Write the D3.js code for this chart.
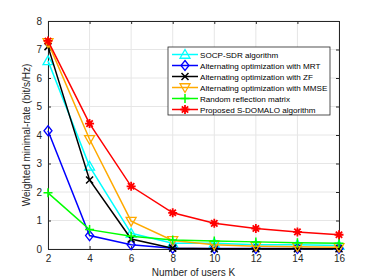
<!DOCTYPE html>
<html>
<head>
<meta charset="utf-8">
<script src="https://cdn.jsdelivr.net/npm/d3@7"></script>
<style>
body { margin: 0; background: #fff; }
text { font-family: "Liberation Sans", Arial, sans-serif; }
</style>
</head>
<body>
<script>
// Daten
var users = [2, 4, 6, 8, 10, 12, 14, 16];
var socpSdr  = [6.6, 2.9, 0.55, 0.2, 0.2, 0.15, 0.15, 0.12];
var aoMrt    = [4.15, 0.47, 0.15, 0.03, 0.02, 0.02, 0.02, 0.02];
var aoZf     = [7.1, 2.42, 0.35, 0.03, 0.01, 0.01, 0.01, 0.01];
var aoMmse   = [7.25, 3.85, 0.98, 0.3, 0.15, 0.1, 0.08, 0.06];
var randRefl = [1.97, 0.68, 0.45, 0.32, 0.28, 0.25, 0.22, 0.2];
var proposed = [7.3, 4.4, 2.2, 1.27, 0.9, 0.72, 0.6, 0.5];
var seriesNames = ["SOCP-SDR algorithm", "Alternating optimization with MRT",
  "Alternating optimization with ZF", "Alternating optimization with MMSE",
  "Random reflection matrix", "Proposed S-DOMALO algorithm"];
var xTicks = [2, 4, 6, 8, 10, 12, 14, 16];
var yTicks = [0, 1, 2, 3, 4, 5, 6, 7, 8];

var series = [
  {name: seriesNames[0], values: socpSdr,  color: "#00ffff", marker: "triUp"},
  {name: seriesNames[1], values: aoMrt,    color: "#0000ff", marker: "diamond"},
  {name: seriesNames[2], values: aoZf,     color: "#000000", marker: "cross"},
  {name: seriesNames[3], values: aoMmse,   color: "#ffaa00", marker: "triDown"},
  {name: seriesNames[4], values: randRefl, color: "#00ff00", marker: "plus"},
  {name: seriesNames[5], values: proposed, color: "#ff0000", marker: "star"}
];

var margin = {top: 21, right: 35, bottom: 31, left: 48}
, width = 374 - margin.left - margin.right
, height = 280 - margin.top - margin.bottom;

var svg = d3.select("body").append("svg")
  .attr("width", 374).attr("height", 280)
  .append("g")
  .attr("transform", "translate(" + margin.left + "," + margin.top + ")");

var x = d3.scaleLinear().domain([2, 16]).range([0, width]);
var y = d3.scaleLinear().domain([0, 8]).range([height, 0]);

// Gitter
svg.selectAll(".gx").data(xTicks).enter().append("line")
  .attr("x1", d => x(d)).attr("x2", d => x(d)).attr("y1", 0).attr("y2", height)
  .attr("stroke", "#e6e6e6").attr("stroke-width", 1);
svg.selectAll(".gy").data(yTicks).enter().append("line")
  .attr("y1", d => y(d)).attr("y2", d => y(d)).attr("x1", 0).attr("x2", width)
  .attr("stroke", "#e6e6e6").attr("stroke-width", 1);

// Achsen
function styleAxis(g) {
  g.selectAll("path,line").attr("stroke", "#262626");
  g.selectAll("text").attr("fill", "#262626").style("font-size", "10px");
}
svg.append("g").attr("transform", "translate(0," + height + ")")
  .call(d3.axisBottom(x).tickValues(xTicks).tickSizeInner(-3).tickSizeOuter(0).tickPadding(6)).call(styleAxis);
svg.append("g")
  .call(d3.axisLeft(y).tickValues(yTicks).tickSizeInner(-3).tickSizeOuter(0).tickPadding(6)).call(styleAxis);
svg.append("g")
  .call(d3.axisTop(x).tickValues(xTicks).tickSizeInner(-3).tickSizeOuter(0).tickFormat("")).call(styleAxis);
svg.append("g").attr("transform", "translate(" + width + ",0)")
  .call(d3.axisRight(y).tickValues(yTicks).tickSizeInner(-3).tickSizeOuter(0).tickFormat("")).call(styleAxis);

// Achsentitel
svg.append("text").attr("x", width / 2).attr("y", height + 27)
  .attr("text-anchor", "middle").style("font-size", "10px").attr("fill", "#262626")
  .text("Number of users K");
svg.append("text").attr("transform", "translate(-18," + height / 2 + ") rotate(-90)")
  .attr("text-anchor", "middle").style("font-size", "10px").attr("fill", "#262626")
  .text("Weighted minimal-rate (bit/s/Hz)");

// Marker
function drawMarker(g, type, color, cx, cy) {
  var s = 5;
  if (type === "triUp") {
    g.append("path").attr("d", "M" + cx + "," + (cy - s) + "L" + (cx + s) + "," + (cy + s * 0.75) + "L" + (cx - s) + "," + (cy + s * 0.75) + "Z")
      .attr("fill", "none").attr("stroke", color).attr("stroke-width", 1.3);
  } else if (type === "triDown") {
    g.append("path").attr("d", "M" + cx + "," + (cy + s) + "L" + (cx + s) + "," + (cy - s * 0.75) + "L" + (cx - s) + "," + (cy - s * 0.75) + "Z")
      .attr("fill", "none").attr("stroke", color).attr("stroke-width", 1.3);
  } else if (type === "diamond") {
    g.append("path").attr("d", "M" + cx + "," + (cy - s) + "L" + (cx + 4) + "," + cy + "L" + cx + "," + (cy + s) + "L" + (cx - 4) + "," + cy + "Z")
      .attr("fill", "none").attr("stroke", color).attr("stroke-width", 1.3);
  } else if (type === "cross") {
    var c = 3.5;
    g.append("path").attr("d", "M" + (cx - c) + "," + (cy - c) + "L" + (cx + c) + "," + (cy + c) + "M" + (cx - c) + "," + (cy + c) + "L" + (cx + c) + "," + (cy - c))
      .attr("stroke", color).attr("stroke-width", 1.5);
  } else if (type === "plus") {
    var p = 4.5;
    g.append("path").attr("d", "M" + (cx - p) + "," + cy + "L" + (cx + p) + "," + cy + "M" + cx + "," + (cy - p) + "L" + cx + "," + (cy + p))
      .attr("stroke", color).attr("stroke-width", 1.5);
  } else if (type === "star") {
    var r = 4.5, d = "";
    for (var k = 0; k < 4; k++) {
      var a = k * Math.PI / 4;
      d += "M" + (cx - r * Math.cos(a)) + "," + (cy - r * Math.sin(a)) + "L" + (cx + r * Math.cos(a)) + "," + (cy + r * Math.sin(a));
    }
    g.append("path").attr("d", d).attr("stroke", color).attr("stroke-width", 1.8);
    g.append("circle").attr("cx", cx).attr("cy", cy).attr("r", 2.2).attr("fill", color);
  }
}

var line = d3.line().x((d, i) => x(users[i])).y(d => y(d));

series.forEach(function (s) {
  var g = svg.append("g");
  g.append("path").datum(s.values).attr("d", line)
    .attr("fill", "none").attr("stroke", s.color).attr("stroke-width", 1.5);
  s.values.forEach(function (v, i) { drawMarker(g, s.marker, s.color, x(users[i]), y(v)); });
});

// Legende
var lg = svg.append("g").attr("transform", "translate(" + (168 - margin.left) + "," + (47 - margin.top) + ")");
lg.append("rect").attr("width", 162).attr("height", 68)
  .attr("fill", "#fff").attr("stroke", "#262626").attr("stroke-width", 0.8);
series.forEach(function (s, i) {
  var yy = 7.5 + i * 11;
  lg.append("line").attr("x1", 4).attr("x2", 30).attr("y1", yy).attr("y2", yy)
    .attr("stroke", s.color).attr("stroke-width", 1.5);
  drawMarker(lg, s.marker, s.color, 17, yy);
  lg.append("text").attr("x", 32).attr("y", yy + 3.2).style("font-size", "8.1px")
    .attr("fill", "#000").text(s.name);
});
</script>
</body>
</html>
